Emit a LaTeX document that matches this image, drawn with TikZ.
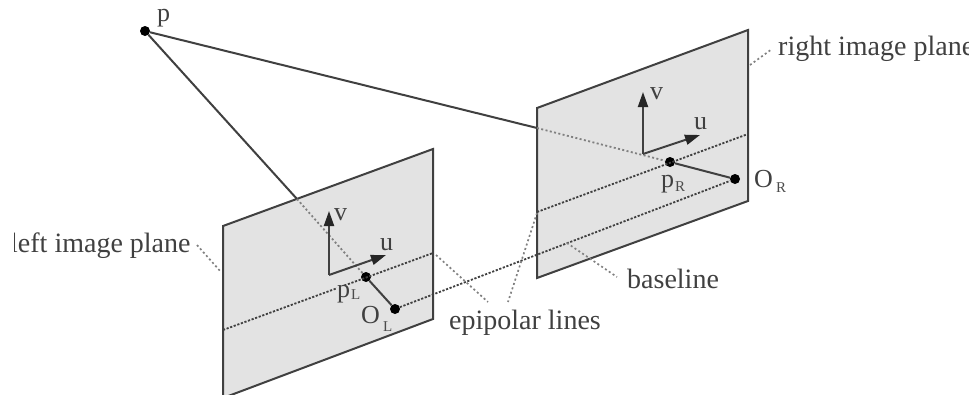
\documentclass[tikz,border=0pt]{standalone}
\usepackage{fontspec}
\setmainfont{Liberation Serif}
\usetikzlibrary{arrows.meta}
\definecolor{planefill}{gray}{0.89}
\definecolor{inkc}{gray}{0.25}
\tikzset{
  plane/.style={draw=inkc,fill=planefill,line width=2pt,line join=miter},
  ray/.style={draw=inkc,line width=2pt},
  dotline/.style={draw=inkc,line width=1.8pt,dash pattern=on 2.2pt off 1.6pt},
  raydot/.style={draw=gray,line width=1.8pt,dash pattern=on 2pt off 2.4pt},
  leader/.style={draw=gray,line width=1.7pt,dash pattern=on 2pt off 2.6pt},
  axis/.style={draw=inkc,line width=2pt,-{Triangle[length=15pt,width=10pt,color=black!85]}},
  pt/.style={circle,fill=black,inner sep=0pt,minimum size=10pt},
  lbl/.style={inner sep=0pt,text=black!75,font=\fontsize{28}{28}\selectfont,anchor=base west},
  symb/.style={inner sep=0pt,text=black!75,font=\fontsize{26}{26}\selectfont,anchor=base west},
  sublbl/.style={inner sep=0pt,text=black!70,font=\fontsize{15}{15}\selectfont,anchor=base west},
}
\begin{document}
\begin{tikzpicture}[x=1pt,y=-1pt]
\useasboundingbox (0,0) rectangle (974,394);
\clip (0,0) rectangle (974,394);
% coordinates
\coordinate (lA) at (223,226);
\coordinate (lB) at (433,149);
\coordinate (lC) at (433,319);
\coordinate (lD) at (223,398);
\coordinate (rA) at (537,108);
\coordinate (rB) at (748,30);
\coordinate (rC) at (748,201);
\coordinate (rD) at (537,278);
\coordinate (enterL) at (297,199);
\coordinate (enterR) at (537,128);
\coordinate (el1) at (223,330);
\coordinate (el2) at (433,253);
\coordinate (er1) at (537,212);
\coordinate (er2) at (748,134);
\coordinate (oL) at (329,275);
\coordinate (vL) at (329,211);
\coordinate (uL) at (386,255);
\coordinate (oR) at (643,154);
\coordinate (vR) at (643,92);
\coordinate (uR) at (700,135);
% planes
\draw[plane] (lA) -- (lB) -- (lC) -- (lD) -- cycle;
\draw[plane] (rA) -- (rB) -- (rC) -- (rD) -- cycle;
% points
\node[pt] (P) at (145,31) {};
\node[pt] (pL) at (366,277) {};
\node[pt] (OL) at (395,309) {};
\node[pt] (pR) at (670,162) {};
\node[pt] (OR) at (735,179) {};
% rays
\draw[ray] (P) -- (enterL);
\draw[ray] (P) -- (enterR);
\draw[raydot] (enterL) -- (pL);
\draw[raydot] (enterR) -- (pR);
\draw[ray] (pL) -- (OL);
\draw[ray] (pR) -- (OR);
% epipolar lines and baseline
\draw[dotline] (el1) -- (el2);
\draw[dotline] (er1) -- (er2);
\draw[dotline] (OL) -- (OR);
% axes
\draw[axis] (oL) -- (vL);
\draw[axis] (oL) -- (uL);
\draw[axis] (oR) -- (vR);
\draw[axis] (oR) -- (uR);
% labels
\node[symb] (tP) at (157,21) {p};
\node[symb] (tv1) at (334,220) {v};
\node[symb] (tu1) at (380,250) {u};
\node[symb] (tv2) at (650,99) {v};
\node[symb] (tu2) at (694,129) {u};
\node[symb,fill=planefill] (tpL) at (337,297) {p};
\node[sublbl] (sL1) at (351,299) {L};
\node[symb] (tOL) at (361,323) {O};
\node[sublbl] (sL2) at (383,331) {L};
\node[symb] (tpR) at (661,187) {p};
\node[sublbl] (sR1) at (675,191) {R};
\node[symb] (tOR) at (754,187) {O};
\node[sublbl] (sR2) at (776,192) {R};
\begin{scope}
\clip (14,220) rectangle (200,270);
\node[lbl] (tleft) at (10,252) {left image plane};
\end{scope}
\begin{scope}
\clip (770,25) rectangle (968,70);
\node[lbl] (tright) at (778,55) {right image plane};
\end{scope}
\node[lbl] (tbase) at (627,288) {baseline};
\node[lbl] (tepi) at (449,329) {epipolar lines};
% leaders
\coordinate (a1) at (197,245);
\coordinate (a2) at (221,272);
\draw[leader] (a1) -- (a2);
\coordinate (b1) at (750,65);
\coordinate (b2) at (772,49);
\draw[leader] (b1) -- (b2);
\coordinate (c1) at (567,243);
\coordinate (c2) at (617,277);
\draw[leader] (c1) -- (c2);
\coordinate (d1) at (436,255);
\coordinate (d2) at (488,302);
\draw[leader] (d1) -- (d2);
\coordinate (e1) at (537,213);
\coordinate (e2) at (508,302);
\draw[leader] (e1) -- (e2);
\end{tikzpicture}
\end{document}
